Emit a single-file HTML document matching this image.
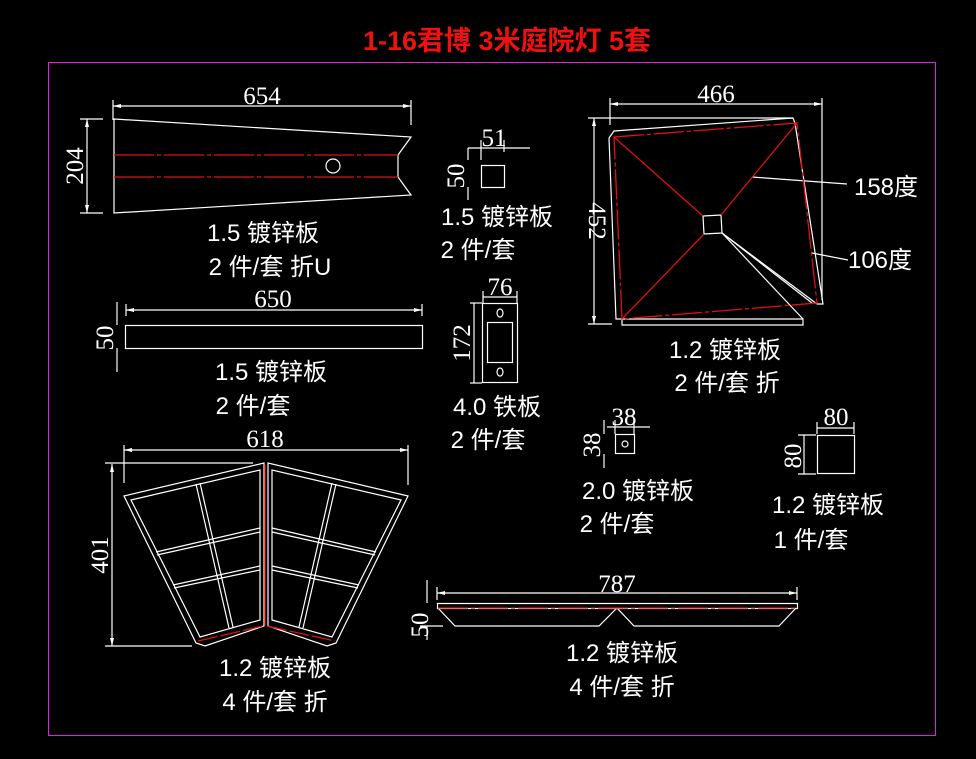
<!DOCTYPE html>
<html><head><meta charset="utf-8"><style>
html,body{margin:0;padding:0;background:#000;}
svg{display:block;}
.t{font-family:"Liberation Sans","Noto Sans CJK SC",sans-serif;font-size:24px;fill:#fff;text-anchor:middle;}
.d{font-family:"Liberation Serif","Noto Serif CJK SC",serif;font-size:25px;fill:#fff;text-anchor:middle;}
</style></head><body>
<svg width="976" height="759" viewBox="0 0 976 759" xmlns="http://www.w3.org/2000/svg">
<rect width="976" height="759" fill="#000"/>
<text x="507" y="50" font-family="Liberation Sans,Noto Sans CJK SC,sans-serif" font-size="27" font-weight="bold" fill="#f01010" text-anchor="middle">1-16君博 3米庭院灯 5套</text>
<rect x="48.5" y="62.5" width="887" height="673" fill="none" stroke="#e020e0" stroke-width="1"/>
<g stroke="#fff" stroke-width="1.2" fill="none">
<line x1="113" y1="106" x2="411" y2="106"/><line x1="113" y1="100" x2="113" y2="120"/><line x1="411" y1="100" x2="411" y2="125"/>
<polygon points="114,119 411,137 398,155 398,177 411,195 114,213"/>
<line x1="87" y1="119" x2="87" y2="213"/><line x1="80" y1="119" x2="103" y2="119"/><line x1="80" y1="213" x2="103" y2="213"/>
<circle cx="333" cy="166" r="7"/>
<line x1="126" y1="310" x2="422" y2="310"/><line x1="126" y1="304" x2="126" y2="316"/><line x1="422" y1="304" x2="422" y2="316"/>
<rect x="125.5" y="325.5" width="297" height="23"/>
<line x1="117" y1="302" x2="117" y2="325"/><line x1="117" y1="348" x2="117" y2="372"/>
<line x1="124" y1="450" x2="408" y2="450"/><line x1="124" y1="445" x2="124" y2="483"/><line x1="408" y1="445" x2="408" y2="485"/>
<line x1="112" y1="464" x2="112" y2="646"/><line x1="105" y1="463" x2="253" y2="463"/><line x1="105" y1="646" x2="192" y2="646"/>
<polygon points="124,496 264,463 264,626 205,646 196,643"/>
<polygon points="131,500 260,470 260,620 200,637"/>
<polygon points="408,496 268,463 268,626 327,646 336,643"/>
<polygon points="401,500 272,470 272,620 332,637"/>
<line x1="196" y1="484" x2="229" y2="628"/><line x1="200" y1="483" x2="233" y2="627"/>
<line x1="156" y1="552" x2="260" y2="528"/><line x1="157" y1="555" x2="260" y2="532"/>
<line x1="173" y1="585" x2="260" y2="566"/><line x1="174" y1="588" x2="260" y2="570"/>
<line x1="336" y1="484" x2="303" y2="628"/><line x1="332" y1="483" x2="299" y2="627"/>
<line x1="376" y1="552" x2="272" y2="528"/><line x1="375" y1="555" x2="272" y2="532"/>
<line x1="359" y1="585" x2="272" y2="566"/><line x1="358" y1="588" x2="272" y2="570"/>
<line x1="468" y1="148" x2="530" y2="148"/><line x1="481" y1="140" x2="481" y2="160"/><line x1="504" y1="140" x2="504" y2="152"/>
<rect x="481.5" y="165.5" width="23" height="22"/>
<line x1="468" y1="148" x2="468" y2="160"/><line x1="468" y1="187" x2="468" y2="200"/>
<line x1="483" y1="297" x2="517" y2="297"/><line x1="483" y1="291" x2="483" y2="303"/><line x1="517" y1="291" x2="517" y2="303"/>
<rect x="482.5" y="303.5" width="35" height="79"/>
<rect x="487.5" y="322.5" width="25" height="40"/>
<ellipse cx="500" cy="313" rx="3" ry="4"/><ellipse cx="500" cy="372" rx="3" ry="4"/>
<line x1="474" y1="303" x2="474" y2="383"/><line x1="470" y1="303" x2="482" y2="303"/><line x1="470" y1="383" x2="482" y2="383"/>
<line x1="610" y1="104" x2="822" y2="104"/><line x1="610" y1="98" x2="610" y2="125"/><line x1="822" y1="98" x2="822" y2="300"/>
<line x1="594" y1="118" x2="594" y2="324"/><line x1="588" y1="118" x2="793" y2="118"/><line x1="588" y1="324" x2="612" y2="324"/>
<polyline points="609,138 614,131 793,118 795,123 823,304 817,304"/>
<polyline points="609,138 616,319 622,319 622,325 803,325 803,319 622,319"/>
<polygon points="703,216 721,215 722,233 704,234"/>
<line x1="722" y1="233" x2="817" y2="304"/><line x1="722" y1="233" x2="812" y2="303"/><line x1="722" y1="233" x2="803" y2="319"/>
<line x1="752" y1="177" x2="847" y2="184"/><line x1="812" y1="253" x2="848" y2="260"/>
<line x1="607" y1="427" x2="650" y2="427"/><line x1="615" y1="420" x2="615" y2="434"/><line x1="634" y1="420" x2="634" y2="434"/>
<rect x="615.5" y="434.5" width="19" height="19"/><circle cx="625" cy="444" r="3"/>
<line x1="604" y1="420" x2="604" y2="434"/><line x1="604" y1="454" x2="604" y2="468"/>
<line x1="817" y1="428" x2="854" y2="428"/><line x1="817" y1="422" x2="817" y2="434"/><line x1="854" y1="422" x2="854" y2="434"/>
<rect x="817.5" y="435.5" width="37" height="38"/>
<line x1="804" y1="435" x2="804" y2="474"/><line x1="798" y1="435" x2="816" y2="435"/><line x1="798" y1="474" x2="816" y2="474"/>
<line x1="437" y1="593" x2="797" y2="593"/><line x1="437" y1="587" x2="437" y2="600"/><line x1="797" y1="587" x2="797" y2="600"/>
<rect x="437.5" y="603.5" width="360" height="5"/>
<polyline points="438,608 455,626 599,626 617,608 634,626 779,626 796,608"/>
<line x1="427" y1="580" x2="427" y2="603"/><line x1="427" y1="626" x2="427" y2="640"/><line x1="420" y1="626" x2="443" y2="626"/>
</g>
<g stroke="#e01010" stroke-width="1.3" fill="none">
<line x1="114" y1="155" x2="398" y2="155" stroke-dasharray="40,3,4,3"/>
<line x1="114" y1="177" x2="398" y2="177" stroke-dasharray="40,3,4,3"/>
<line x1="265" y1="465" x2="265" y2="625"/>
<line x1="198" y1="641" x2="263" y2="626" stroke-dasharray="20,3"/>
<line x1="267" y1="626" x2="335" y2="641" stroke-dasharray="20,3"/>
<polygon points="614,137 797,123 817,303 622,319" stroke-dasharray="30,3,4,3"/>
<line x1="614" y1="137" x2="703" y2="216"/><line x1="797" y1="123" x2="721" y2="215"/>
<line x1="622" y1="319" x2="704" y2="234"/>
<line x1="438" y1="608" x2="797" y2="608" stroke-dasharray="30,3,4,3"/>
</g>
<g fill="#fff">
<path d="M113,106 l8,-2 v4z M411,106 l-8,-2 v4z M87,119 l-2,8 h4z M87,213 l-2,-8 h4z M126,310 l8,-2 v4z M422,310 l-8,-2 v4z M124,450 l8,-2 v4z M408,450 l-8,-2 v4z M112,464 l-2,8 h4z M112,646 l-2,-8 h4z M610,104 l8,-2 v4z M822,104 l-8,-2 v4z M594,118 l-2,8 h4z M594,324 l-2,-8 h4z M437,593 l8,-2 v4z M797,593 l-8,-2 v4z"/>
</g>
<text class="d" x="262" y="104">654</text>
<text class="d" transform="translate(83,166) rotate(-90)">204</text>
<text class="d" x="273" y="307">650</text>
<text class="d" transform="translate(113,338) rotate(-90)">50</text>
<text class="d" x="265" y="447">618</text>
<text class="d" transform="translate(108,555) rotate(-90)">401</text>
<text class="d" x="494" y="146">51</text>
<text class="d" transform="translate(464,176) rotate(-90)">50</text>
<text class="d" x="500" y="295">76</text>
<text class="d" transform="translate(470,343) rotate(-90)">172</text>
<text class="d" x="716" y="102">466</text>
<text class="d" transform="translate(589,221) rotate(90)">452</text>
<text class="d" x="624" y="425">38</text>
<text class="d" transform="translate(600,445) rotate(-90)">38</text>
<text class="d" x="836" y="425">80</text>
<text class="d" transform="translate(801,456) rotate(-90)">80</text>
<text class="d" x="617" y="592">787</text>
<text class="d" transform="translate(428,625) rotate(-90)">50</text>
<text class="t" x="263" y="241">1.5 镀锌板</text>
<text class="t" x="270" y="275">2 件/套  折U</text>
<text class="t" x="271" y="380">1.5 镀锌板</text>
<text class="t" x="253" y="414">2 件/套</text>
<text class="t" x="497" y="225">1.5 镀锌板</text>
<text class="t" x="478" y="258">2 件/套</text>
<text class="t" x="497" y="415">4.0 铁板</text>
<text class="t" x="488" y="448">2 件/套</text>
<text class="t" x="886" y="195">158度</text>
<text class="t" x="880" y="268">106度</text>
<text class="t" x="725" y="358">1.2 镀锌板</text>
<text class="t" x="727" y="391">2 件/套  折</text>
<text class="t" x="638" y="499">2.0 镀锌板</text>
<text class="t" x="617" y="532">2 件/套</text>
<text class="t" x="828" y="513">1.2 镀锌板</text>
<text class="t" x="811" y="548">1 件/套</text>
<text class="t" x="275" y="676">1.2 镀锌板</text>
<text class="t" x="275" y="710">4 件/套  折</text>
<text class="t" x="622" y="661">1.2 镀锌板</text>
<text class="t" x="622" y="695">4 件/套  折</text>
</svg>
</body></html>
